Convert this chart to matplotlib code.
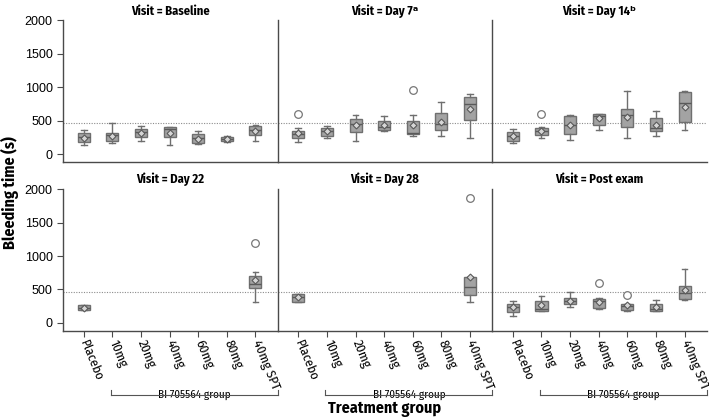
import matplotlib
matplotlib.use("Agg")
import matplotlib.pyplot as plt
import matplotlib.transforms as mtransforms
from matplotlib.lines import Line2D
from matplotlib import font_manager

# Treatment groups shown on every panel
groups = ["Placebo", "10mg", "20mg", "40mg", "60mg", "80mg", "40mg SPT"]

visit_titles = ["Visit = Baseline", "Visit = Day 7\u1d43", "Visit = Day 14\u1d47",
                "Visit = Day 22", "Visit = Day 28", "Visit = Post exam"]

# box stats per group: (whisker low, q1, median, q3, whisker high, mean); None = no data
baseline = [(134, 184, 259, 308, 358, 244), (159, 199, 285, 318, 458, 269),
            (199, 259, 333, 378, 418, 318), (139, 259, 378, 398, 398, 318),
            (149, 169, 235, 299, 348, 229), (184, 189, 230, 259, 269, 224),
            (199, 284, 358, 418, 438, 348)]
day7 = [(179, 244, 300, 343, 383, 308), (234, 264, 345, 393, 418, 338),
        (199, 323, 450, 527, 587, 433), (343, 358, 398, 498, 562, 438),
        (264, 303, 313, 498, 587, 433), (264, 358, 448, 612, 771, 483),
        (234, 512, 746, 851, 891, 667)]
day14 = [(169, 194, 270, 328, 378, 274), (234, 289, 350, 383, 403, 348),
         (204, 294, 428, 572, 587, 428), (353, 428, 562, 592, 592, 532),
         (234, 398, 582, 677, 945, 557), (264, 348, 383, 532, 647, 433),
         (353, 473, 761, 925, 945, 701)]
day22 = [(194, 194, 229, 264, 264, 229), None, None, None, None, None,
         (318, 517, 582, 701, 766, 642)]
day28 = [(313, 313, 383, 433, 433, 383), None, None, None, None, None,
         (318, 413, 532, 687, 692, 692)]
post_exam = [(109, 169, 240, 289, 333, 234), (174, 184, 204, 328, 398, 274),
             (234, 289, 330, 373, 463, 328), (204, 224, 323, 353, 373, 313),
             (174, 189, 250, 289, 289, 269), (174, 174, 214, 289, 348, 239),
             (348, 363, 443, 557, 801, 488)]

# outliers per group
baseline_out = [[], [], [], [], [], [], []]
day7_out = [[592], [], [], [], [950], [], []]
day14_out = [[], [592], [], [], [], [], []]
day22_out = [[], [], [], [], [], [], [1194]]
day28_out = [[], [], [], [], [], [], [1871]]
post_exam_out = [[], [], [], [592], [413], [], []]

ref_line = 470
yticks = [0, 500, 1000, 1500, 2000]

all_stats = [baseline, day7, day14, day22, day28, post_exam]
all_out = [baseline_out, day7_out, day14_out, day22_out, day28_out, post_exam_out]

# pick a condensed sans if one is installed
avail = {f.name for f in font_manager.fontManager.ttflist}
cond = next((n for n in ["Fira Sans Condensed", "Roboto Condensed",
                         "IBM Plex Sans Condensed", "Barlow Semi Condensed",
                         "Archivo Narrow", "PT Sans Narrow", "Liberation Sans Narrow"]
             if n in avail), "Liberation Sans")
plt.rcParams["font.family"] = [cond, "DejaVu Sans"]

box_face = "#a3a3a3"
box_edge = "#6f6f6f"
spine_col = "#4a4a4a"

fig, axes = plt.subplots(2, 3, figsize=(7.09, 4.19), dpi=100, sharey=True)
fig.subplots_adjust(left=0.089, right=0.997, top=0.952, bottom=0.21,
                    wspace=0, hspace=0.19)

for k, ax in enumerate(axes.flat):
    bxp_stats = []
    pos = []
    for i, s in enumerate(all_stats[k]):
        if s is None:
            continue
        bxp_stats.append(dict(whislo=s[0], q1=s[1], med=s[2], q3=s[3],
                              whishi=s[4], mean=s[5], fliers=all_out[k][i]))
        pos.append(i)
    ax.bxp(bxp_stats, positions=pos, widths=0.42, capwidths=0.2,
           showmeans=True, patch_artist=True,
           boxprops=dict(facecolor=box_face, edgecolor=box_edge, linewidth=1),
           whiskerprops=dict(color=box_edge, linewidth=1),
           capprops=dict(color=box_edge, linewidth=1),
           medianprops=dict(color="#5a5a5a", linewidth=1),
           meanprops=dict(marker="D", markersize=3.5, markerfacecolor="#d6d6d6",
                          markeredgecolor="#5a5a5a", markeredgewidth=0.8),
           flierprops=dict(marker="o", markersize=5.5, markerfacecolor="white",
                           markeredgecolor="#777777", markeredgewidth=0.9))
    ax.axhline(ref_line, color="#8c8c8c", linestyle=(0, (1, 1.3)), linewidth=0.8,
               zorder=0)
    ax.set_xlim(-0.72, 6.78)
    ax.set_ylim(-120, 2000)
    ax.set_yticks(yticks)
    ax.set_title(visit_titles[k], fontsize=9, fontweight="bold", pad=4)
    for side in ["top", "right"]:
        ax.spines[side].set_visible(False)
    for side in ["left", "bottom"]:
        ax.spines[side].set_color(spine_col)
        ax.spines[side].set_linewidth(1)
    ax.tick_params(axis="y", labelsize=9, length=4, color=spine_col)
    for lab in ax.get_yticklabels():
        lab.set_fontfamily(["Liberation Sans", "DejaVu Sans"])
    if k % 3 != 0:
        ax.tick_params(axis="y", left=False, labelleft=False)
    ax.set_xticks(range(len(groups)))
    if k < 3:
        ax.tick_params(axis="x", bottom=False, labelbottom=False)
    else:
        ax.tick_params(axis="x", length=4, color=spine_col, pad=3)
        ax.set_xticklabels(groups, rotation=-68, ha="left", va="center",
                           rotation_mode="anchor", fontsize=9.5)
        # bracket under the BI 705564 doses
        trans = mtransforms.blended_transform_factory(ax.transData, fig.transFigure)
        x0, x1 = 0.95, 6.78
        yb = 0.057
        for xx in (x0, x1):
            fig.add_artist(Line2D([xx, xx], [yb, yb + 0.012], transform=trans,
                                  color="#555555", linewidth=0.8))
        fig.add_artist(Line2D([x0, x1], [yb, yb], transform=trans,
                              color="#555555", linewidth=0.8))
        ax.text((x0 + x1) / 2, yb, "BI 705564 group", transform=trans,
                ha="center", va="center", fontsize=8,
                bbox=dict(facecolor="white", edgecolor="none", pad=1.5))

fig.text(0.0135, 0.54, "Bleeding time (s)", rotation=90, ha="center", va="center",
         fontsize=11.5, fontweight="bold")
fig.text(0.543, 0.024, "Treatment group", ha="center", va="center",
         fontsize=11.5, fontweight="bold")

fig.savefig("out.png", dpi=100)
